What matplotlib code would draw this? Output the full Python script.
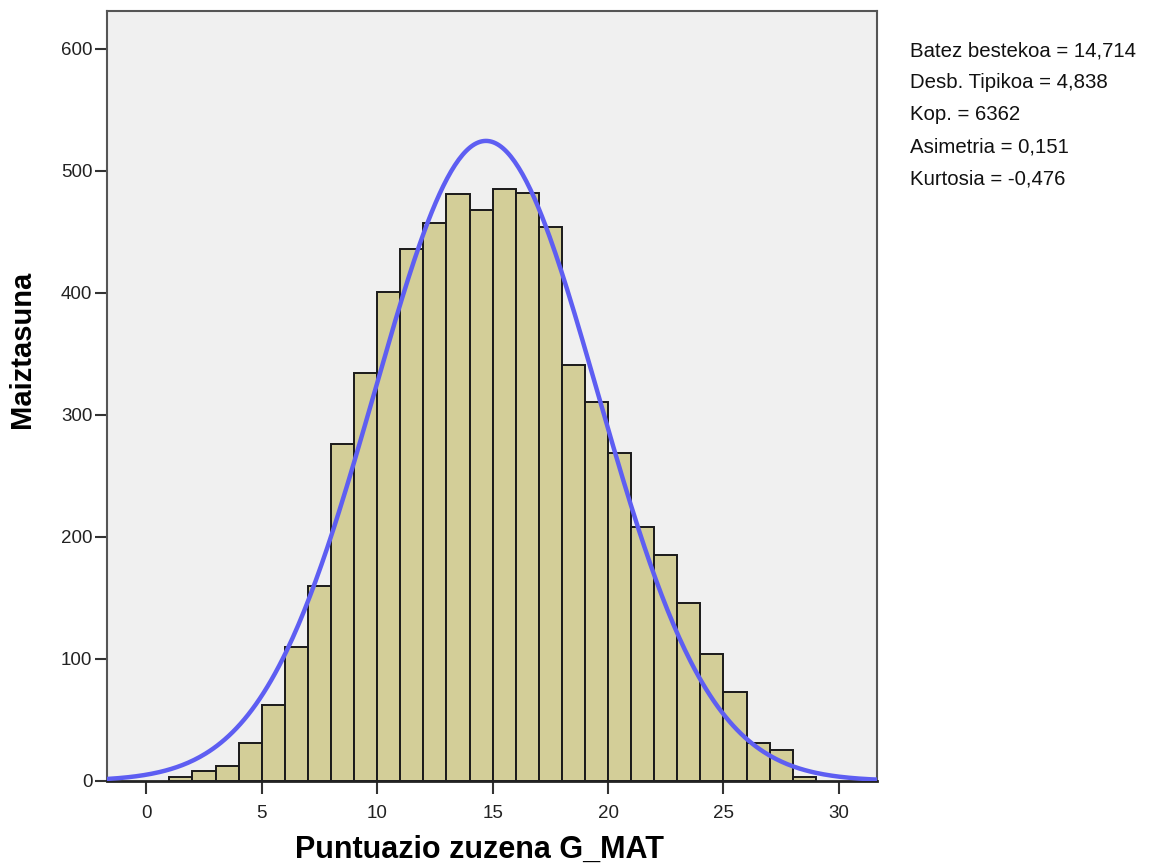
import matplotlib
matplotlib.use("Agg")
import matplotlib.pyplot as plt
import numpy as np

plt.rcParams['font.family'] = ['Liberation Sans', 'DejaVu Sans']

# histogram bins [k, k+1) and counts
edges = np.arange(1, 30)
counts = [3, 8, 12, 31, 62, 110, 160, 276, 334, 401, 436, 457, 481, 468,
          485, 482, 454, 341, 311, 269, 208, 185, 146, 104, 73, 31, 25, 3]

# summary statistics shown on the right
mean = 14.714
sd = 4.838
n = 6362
stats_lines = ["Batez bestekoa = 14,714", "Desb. Tipikoa = 4,838", "Kop. = 6362",
               "Asimetria = 0,151", "Kurtosia = -0,476"]

xticks = [0, 5, 10, 15, 20, 25, 30]
yticks = [0, 100, 200, 300, 400, 500, 600]

fig = plt.figure(figsize=(11.57, 8.67), dpi=100)
ax = fig.add_axes([0.0925, 0.0992, 0.6655, 0.888])
ax.set_facecolor('#f0f0f0')

ax.bar(edges[:-1], counts, width=1.0, align='edge', color='#d3ce98',
       edgecolor='#1a1a1a', linewidth=1.4, zorder=2)

# fitted normal curve scaled to counts (bin width 1)
xs = np.linspace(-1.7, 31.7, 400)
curve = n * 1.0 * np.exp(-0.5 * ((xs - mean) / sd) ** 2) / (sd * np.sqrt(2 * np.pi))
ax.plot(xs, curve, color='#5e5ef2', linewidth=3.2, zorder=3)

ax.set_xlim(-1.7, 31.65)
ax.set_ylim(0, 631)
ax.set_xticks(xticks)
ax.set_yticks(yticks)
ax.tick_params(axis='both', direction='out', length=9, width=1.5, color='#333333',
               labelsize=13.5, labelcolor='#222222')
ax.tick_params(axis='x', pad=8)
ax.tick_params(axis='y', pad=1.5)
for s in ax.spines.values():
    s.set_color('#555555')
    s.set_linewidth(1.5)
ax.spines['bottom'].set_color('#222222')
ax.spines['bottom'].set_linewidth(2)

ax.set_xlabel("Puntuazio zuzena G_MAT", fontsize=22, fontweight='bold', va='center')
ax.xaxis.set_label_coords(0.484, -0.090)
ax.set_ylabel("Maiztasuna", fontsize=21, fontweight='bold', va='center')
ax.yaxis.set_label_coords(-0.110, 0.56)

for i, line in enumerate(stats_lines):
    fig.text(910 / 1157, 1 - (51 + 32 * i) / 867, line, fontsize=14.7,
             va='center', ha='left', color='#111111')

plt.savefig("out.png", dpi=100, facecolor='white')
